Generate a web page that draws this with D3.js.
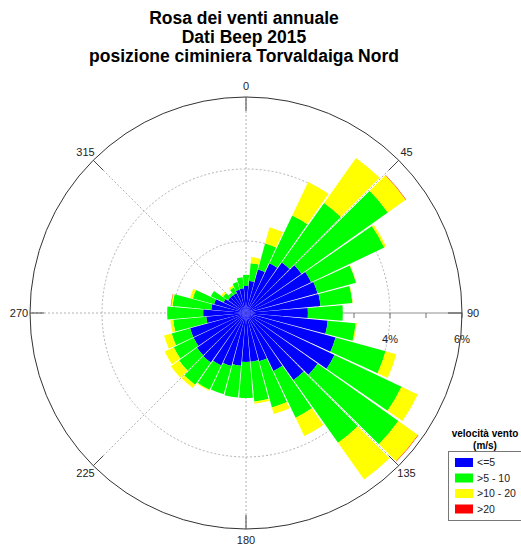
<!DOCTYPE html>
<html>
<head>
<meta charset="utf-8">
<script src="https://cdn.jsdelivr.net/npm/d3@7"></script>
<style>
  body { margin: 0; background: #fff; }
  svg { display: block; font-family: "Liberation Sans", Arial, sans-serif; }
</style>
</head>
<body>
<div id="chart"></div>
<script>
// wind direction sectors (degrees from north, 10 deg wide)
const directions = [0, 10, 20, 30, 40, 50, 60, 70, 80, 90, 100, 110, 120, 130, 140, 150, 160, 170,
                    180, 190, 200, 210, 220, 230, 240, 250, 260, 270, 280, 290, 300, 310, 320, 330, 340, 350];

// frequency (%) per speed class, one value per sector
const speedLe5   = [0.75, 0.89, 1.25, 1.53, 1.72, 1.89, 2.00, 2.06, 2.08, 1.72, 2.28, 2.58, 2.72, 2.44, 2.28, 1.78, 1.39, 1.36,
                    1.36, 1.47, 1.53, 1.61, 1.69, 1.67, 1.61, 1.61, 1.11, 1.19, 0.97, 0.92, 0.69, 0.61, 0.61, 0.61, 0.67, 0.69];
const speed5to10 = [0.31, 0.50, 0.75, 1.47, 2.03, 2.94, 2.25, 1.11, 0.89, 0.97, 0.78, 1.44, 2.06, 2.75, 2.14, 1.44, 1.33, 1.11,
                    1.00, 0.89, 0.81, 0.75, 0.75, 0.61, 0.61, 0.53, 0.92, 1.00, 1.08, 0.61, 0.39, 0.17, 0.08, 0.17, 0.22, 0.31];
const speed10to20= [0.00, 0.17, 0.47, 1.03, 1.53, 0.61, 0.06, 0.01, 0.01, 0.00, 0.03, 0.31, 0.50, 0.67, 1.25, 0.56, 0.19, 0.06,
                    0.00, 0.00, 0.00, 0.03, 0.11, 0.28, 0.28, 0.22, 0.08, 0.00, 0.04, 0.08, 0.00, 0.06, 0.00, 0.06, 0.00, 0.00];
const speedGt20  = [0, 0, 0, 0, 0, 0.012, 0, 0, 0, 0, 0, 0, 0, 0.012, 0, 0, 0, 0,
                    0, 0, 0, 0, 0, 0, 0, 0, 0, 0, 0.01, 0, 0, 0, 0, 0, 0, 0];

const speedClasses = ["<=5", ">5 - 10", ">10 - 20", ">20"];
const classColours = ["#0000ff", "#00ff00", "#ffff00", "#ff0000"];

const ringTicks = [2, 4];
const axisTicks = [1, 2, 3, 4, 5, 6];
const axisLabels = [2, 4, 6];
const compassTicks = [0, 45, 90, 135, 180, 225, 270, 315];
const titleLines = ["Rosa dei venti annuale", "Dati Beep 2015", "posizione ciminiera Torvaldaiga Nord"];

const W = 521, H = 545, cx = 246, cy = 313, R = 216;
const rad = Math.PI / 180;

const svg = d3.select("#chart").append("svg").attr("width", W).attr("height", H);

// titles
svg.append("g").selectAll("text").data(titleLines).join("text")
  .attr("x", 244).attr("y", (d, i) => 23.5 + i * 19)
  .attr("text-anchor", "middle").attr("font-weight", "bold").attr("font-size", 17.5)
  .text(d => d);

const r = d3.scaleLinear().domain([0, 6]).range([0, R]);
const g = svg.append("g").attr("transform", `translate(${cx},${cy})`);

// dashed rings
g.selectAll(".ring").data(ringTicks).join("circle")
  .attr("r", d => r(d)).attr("fill", "none")
  .attr("stroke", "#a0a0a0").attr("stroke-width", 0.8).attr("stroke-dasharray", "2,2");

// dashed spokes (90 deg is the solid radial axis)
g.selectAll(".spoke").data(compassTicks.filter(d => d !== 90)).join("line")
  .attr("x1", 0).attr("y1", 0)
  .attr("x2", d => R * Math.sin(d * rad)).attr("y2", d => -R * Math.cos(d * rad))
  .attr("stroke", "#a0a0a0").attr("stroke-width", 0.8).attr("stroke-dasharray", "2,2");

// radial axis along 90 deg
g.append("line").attr("x1", 0).attr("y1", 0).attr("x2", R).attr("y2", 0)
  .attr("stroke", "#909090").attr("stroke-width", 1);
g.selectAll(".atick").data(axisTicks).join("line")
  .attr("x1", d => r(d)).attr("x2", d => r(d)).attr("y1", 0).attr("y2", 5)
  .attr("stroke", "#707070").attr("stroke-width", 1);
g.selectAll(".alabel").data(axisLabels).join("text")
  .attr("x", d => r(d)).attr("y", 30)
  .attr("text-anchor", "middle").attr("font-size", 11).attr("fill", "#222")
  .text(d => d + "%");

// stacked sectors
const rows = directions.map((d, i) => ({dir: d, c0: speedLe5[i], c1: speed5to10[i], c2: speed10to20[i], c3: speedGt20[i]}));
const series = d3.stack().keys(["c0", "c1", "c2", "c3"])(rows);
const gap = 0.35;
const arc = d3.arc()
  .innerRadius(d => r(d[0])).outerRadius(d => r(d[1]))
  .startAngle(d => (d.data.dir - 5 + gap) * rad)
  .endAngle(d => (d.data.dir + 5 - gap) * rad);

g.selectAll(".layer").data(series).join("g")
  .attr("fill", (d, i) => classColours[i])
  .selectAll("path").data(d => d.filter(s => s[1] > s[0])).join("path")
  .attr("d", arc);

// outer circle
g.append("circle").attr("r", R).attr("fill", "none").attr("stroke", "#333").attr("stroke-width", 1);
g.selectAll(".ctick").data(compassTicks).join("line")
  .attr("x1", d => (R - 14) * Math.sin(d * rad)).attr("y1", d => -(R - 14) * Math.cos(d * rad))
  .attr("x2", d => R * Math.sin(d * rad)).attr("y2", d => -R * Math.cos(d * rad))
  .attr("stroke", "#444").attr("stroke-width", 1);

g.selectAll(".clabel").data(compassTicks).join("text")
  .attr("x", d => 227 * Math.sin(d * rad)).attr("y", d => -227 * Math.cos(d * rad))
  .attr("dy", "0.35em").attr("text-anchor", "middle").attr("font-size", 11).attr("fill", "#222")
  .text(d => d);

// legend
const lg = svg.append("g");
lg.selectAll(".lt").data(["velocità vento", "(m/s)"]).join("text")
  .attr("x", 485).attr("y", (d, i) => 437 + i * 11.5)
  .attr("text-anchor", "middle").attr("font-weight", "bold").attr("font-size", 10)
  .text(d => d);
lg.append("rect").attr("x", 448.5).attr("y", 451.5).attr("width", 80).attr("height", 69)
  .attr("fill", "#fff").attr("stroke", "#777").attr("stroke-width", 1);
const item = lg.selectAll(".item").data(speedClasses).join("g")
  .attr("transform", (d, i) => `translate(455,${462.5 + i * 15.5})`);
item.append("rect").attr("x", 0).attr("y", -4.5).attr("width", 18).attr("height", 9)
  .attr("fill", (d, i) => classColours[i]);
item.append("text").attr("x", 22).attr("y", 3.8).attr("font-size", 10.5).attr("fill", "#222")
  .text(d => d);
</script>
</body>
</html>
